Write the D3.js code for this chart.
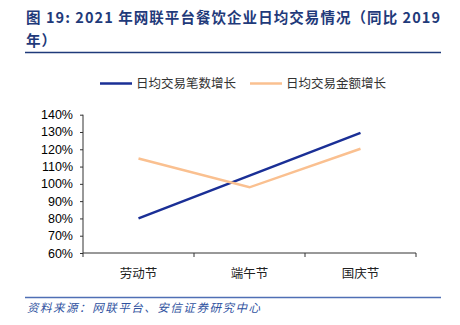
<!DOCTYPE html>
<html><head><meta charset="utf-8">
<script src="https://cdn.jsdelivr.net/npm/d3@7"></script>
<style>body{margin:0;background:#fff}svg{display:block}</style>
</head><body>
<script>
const categories = ["劳动节", "端午节", "国庆节"];
const seriesNames = ["日均交易笔数增长", "日均交易金额增长"];
const countGrowth = [80, 104.8, 129.5];
const amountGrowth = [114.7, 98, 120.3];
const yTicks = [60, 70, 80, 90, 100, 110, 120, 130, 140];
const colors = ["#1A2F96", "#FAC090"];

const W = 460, H = 325;
const svg = d3.select("body").append("svg").attr("width", W).attr("height", H);
const font = "'Noto Sans CJK SC', 'Liberation Sans', sans-serif";

// Title
const title = svg.append("g").attr("fill", "#1F3A7A").attr("font-family", font)
  .attr("font-weight", "bold").attr("font-size", 14.5);
title.append("text").attr("x", 26).attr("y", 23).attr("textLength", 414).attr("lengthAdjust", "spacing")
  .text("图 19: 2021 年网联平台餐饮企业日均交易情况（同比 2019");
title.append("text").attr("x", 26).attr("y", 46).attr("letter-spacing", 1).text("年）");
svg.append("line").attr("x1", 25).attr("x2", 441).attr("y1", 52.5).attr("y2", 52.5)
  .attr("stroke", "#1F3A7A").attr("stroke-width", 1.5);

// Scales
const x = d3.scaleBand().domain(categories).range([83, 416]);
const y = d3.scaleLinear().domain([60, 140]).range([253, 114.7]);

// Y axis
const yAxis = svg.append("g").attr("transform", "translate(83,0)")
  .call(d3.axisLeft(y).tickValues(yTicks).tickSize(3).tickPadding(7).tickFormat(d => d + "%"));
yAxis.selectAll("text").attr("font-family", "'Liberation Sans', Arial, sans-serif").attr("font-size", 12.5).attr("fill", "#000");
yAxis.selectAll("line").attr("stroke", "#333");
yAxis.select(".domain").attr("stroke", "#333").attr("d", `M0,${y(140)}V${y(60)}`);

// X axis
const xAxis = svg.append("g").attr("transform", "translate(0,253)");
xAxis.append("line").attr("x1", 83).attr("x2", 416).attr("stroke", "#333");
const bounds = [83, ...categories.map(c => x(c) + x.bandwidth())];
xAxis.selectAll("line.tk").data(bounds).enter().append("line")
  .attr("x1", d => d).attr("x2", d => d).attr("y1", 0).attr("y2", 4).attr("stroke", "#333");
xAxis.selectAll("text").data(categories).enter().append("text")
  .attr("x", d => x(d) + x.bandwidth() / 2).attr("y", 25).attr("text-anchor", "middle")
  .attr("font-family", font).attr("font-size", 12.5).attr("fill", "#222").text(d => d);

// Lines
const line = d3.line().x((d, i) => x(categories[i]) + x.bandwidth() / 2).y(d => y(d));
[countGrowth, amountGrowth].forEach((s, i) => {
  svg.append("path").datum(s).attr("d", line).attr("fill", "none")
    .attr("stroke", colors[i]).attr("stroke-width", 2.5);
});

// Legend
const legendX = [100, 250];
seriesNames.forEach((n, i) => {
  const g = svg.append("g").attr("transform", `translate(${legendX[i]},83.5)`);
  g.append("line").attr("x1", 0).attr("x2", 32).attr("stroke", colors[i]).attr("stroke-width", 2.5);
  g.append("text").attr("x", 36).attr("y", 4.5).attr("font-family", font).attr("font-size", 12.5)
    .attr("fill", "#333").text(n);
});

// Footer
svg.append("line").attr("x1", 25).attr("x2", 441).attr("y1", 297.5).attr("y2", 297.5)
  .attr("stroke", "#4F6FB5").attr("stroke-width", 1.5);
svg.append("text").attr("x", 27).attr("y", 312).attr("font-family", font).attr("font-size", 11.5)
  .attr("font-style", "italic").attr("fill", "#2F52A0").attr("textLength", 233).attr("lengthAdjust", "spacing")
  .text("资料来源：网联平台、安信证券研究中心");
</script>
</body></html>
